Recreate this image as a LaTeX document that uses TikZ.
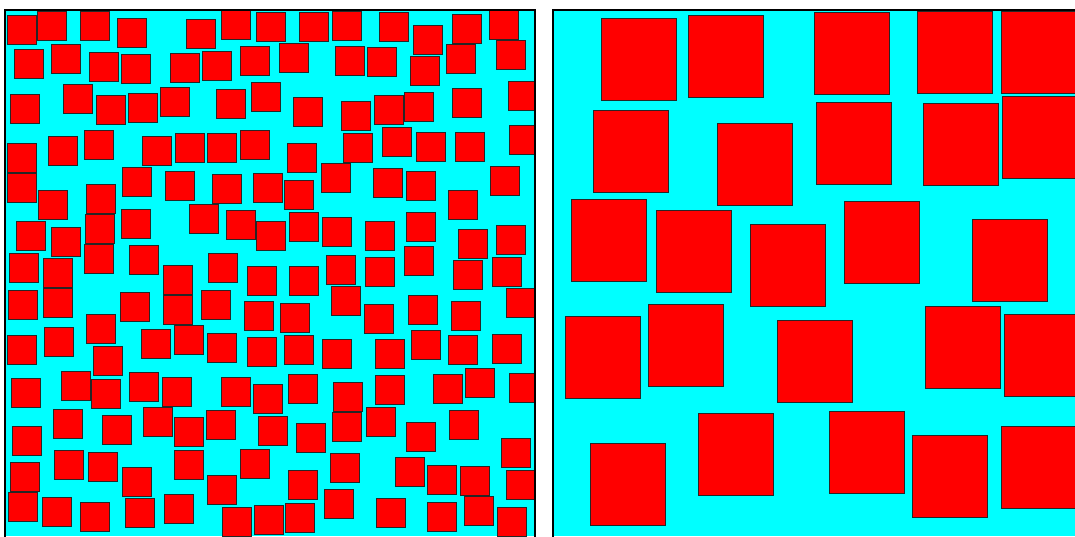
\documentclass[tikz,border=0pt]{standalone}
\usepackage{tikz}
\definecolor{bgcyan}{RGB}{0,255,255}
\definecolor{cellred}{RGB}{255,0,0}
\tikzset{
  panel bg/.style={
    fill=bgcyan
  },
  small cell/.style={
    fill=cellred,
    draw=black!85,
    line width=0.9pt
  },
  big cell/.style={
    fill=cellred,
    draw=black!85,
    line width=0.9pt
  }
}
\begin{document}
\begin{tikzpicture}[x=1pt, y=-1pt]
    \useasboundingbox (0,0) rectangle (1075,536);
    % 左图: 小方块, 约 29 x 29
    \begin{scope}
      \clip (5,10) rectangle (535,536);
      \fill[panel bg] (5,10) rectangle (535,536);
      \foreach \x/\y in {7/15, 37/11, 80/11, 117/18, 186/19, 221/10, 256/12, 299/12, 332/11, 379/12, 413/25, 452/14, 489/10,
                         14/49, 51/44, 89/52, 121/54, 170/53, 202/51, 240/46, 279/43, 335/46, 367/47, 410/56, 446/44, 496/40,
                         10/94, 63/84, 96/95, 128/93, 160/87, 216/89, 251/82, 293/97, 341/101, 374/95, 404/92, 452/88, 508/81,
                         7/143, 48/136, 84/130, 142/136, 175/133, 207/133, 240/130, 287/143, 343/133, 382/127, 416/132, 455/132, 509/125,
                         7/173, 38/190, 86/184, 122/167, 165/171, 212/174, 253/173, 284/180, 321/163, 373/168, 406/171, 448/190, 490/166,
                         16/221, 51/227, 85/214, 121/209, 189/204, 226/210, 256/221, 289/212, 322/217, 365/221, 406/212, 458/229, 496/225,
                         9/253, 43/258, 84/244, 129/245, 163/265, 208/253, 247/266, 289/266, 326/255, 365/257, 404/246, 453/260, 492/257,
                         8/290, 43/288, 120/292, 163/295, 201/290, 244/301, 280/303, 331/286, 364/304, 408/295, 451/301, 506/288,
                         7/335, 44/327, 86/314, 93/346, 141/329, 174/325, 207/333, 247/337, 284/335, 322/339, 375/339, 411/330, 448/335, 492/334,
                         11/378, 61/371, 91/379, 129/372, 162/377, 221/377, 253/384, 288/374, 333/382, 375/375, 433/374, 465/368, 509/373,
                         12/426, 53/409, 102/415, 143/407, 174/417, 206/410, 258/416, 296/423, 332/412, 366/407, 406/422, 449/410,
                         10/462, 54/450, 88/452, 122/467, 174/450, 207/475, 240/449, 288/470, 324/489, 330/453, 395/457, 427/465, 460/466, 501/438, 506/470,
                         8/492, 42/497, 80/502, 125/498, 164/494, 222/507, 254/505, 285/503, 376/498, 427/502, 464/496, 497/507} {
        \draw[small cell] (\x,\y) rectangle ++(29.5,29);
      }
    \end{scope}
    \draw[line width=1.2pt] (5,537) -- (5,10) -- (535,10) -- (535,537);

    % 右图: 大方块, 约 75 x 82
    \begin{scope}
      \clip (553,10) rectangle (1075,536);
      \fill[panel bg] (553,10) rectangle (1075,536);
      \foreach \x/\y in {601/18, 688/15, 814/12, 917/11, 1001/11,
                         593/110, 717/123, 816/102, 923/103, 1002/96,
                         571/199, 656/210, 750/224, 844/201, 972/219,
                         565/316, 648/304, 777/320, 925/306, 1004/314,
                         590/443, 698/413, 829/411, 912/435, 1001/426} {
        \draw[big cell] (\x,\y) rectangle ++(75,82);
      }
    \end{scope}
    \draw[line width=1.2pt] (553,537) -- (553,10) -- (1076,10);
\end{tikzpicture}
\end{document}
